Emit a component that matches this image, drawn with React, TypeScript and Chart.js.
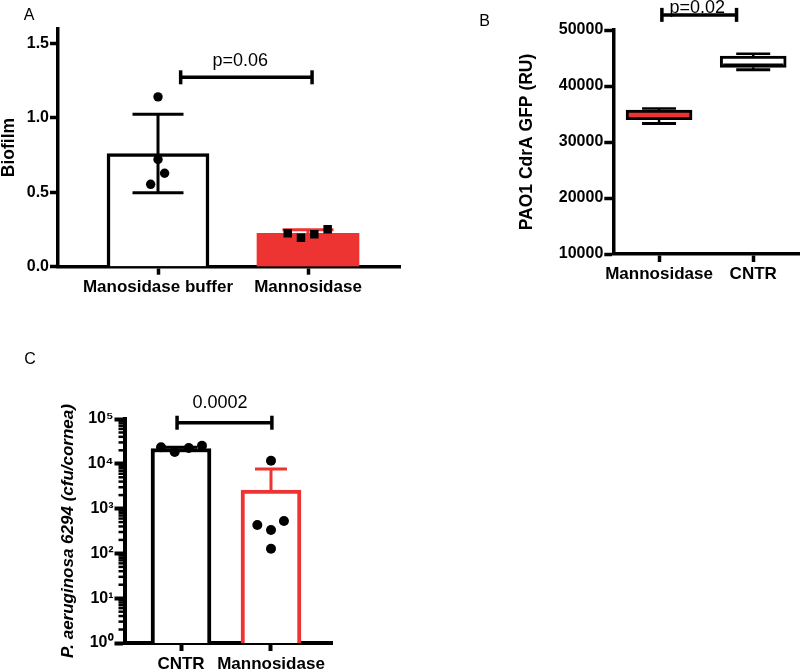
import React, { useEffect, useRef } from 'react';
import { Chart, registerables } from 'chart.js';
Chart.register(...registerables);

const FONT = '"Liberation Sans", Arial, Helvetica, sans-serif';
const RED = '#EE3333';
const BLACK = '#000000';
const WHITE = '#ffffff';

// ---------- Panel A : Biofilm ----------
const catsA = ['Manosidase buffer', 'Mannosidase'];
const barA = [0.76, 0.224];
const sdA = [0.263, 0.024];
const ptsA1 = [1.14, 0.72, 0.627, 0.553];
const ptsA2 = [0.224, 0.195, 0.217, 0.251];
const yTicksA = [0, 0.5, 1.0, 1.5];
const pTextA = 'p=0.06';
const bracketYA = 1.271;

// ---------- Panel B : PAO1 CdrA GFP ----------
const catsB = ['Mannosidase', 'CNTR'];
const minB = [33300, 42900];
const q1B = [34000, 43340];
const medB = [34700, 43750];
const q3B = [35700, 45360];
const maxB = [36000, 45770];
const yTicksB = [10000, 20000, 30000, 40000, 50000];
const pTextB = 'p=0.02';
const bracketYB = 52700;

// ---------- Panel C : P. aeruginosa cfu ----------
const catsC = ['CNTR', 'Mannosidase'];
const barC = [22000, 2600];
const sdC = [1500, 5050];
const ptsC1 = [23350, 18340, 22540, 25350];
const ptsC2 = [11730, 430, 333, 528, 127];
const yTicksC = [1, 10, 100, 1000, 10000, 100000];
const pTextC = '0.0002';
const bracketYC = 82600;

// layout-only helpers (horizontal jitter of dots, in category units)
const jitA1 = [0, 0, 0.044, -0.049];
const jitA2 = [-0.135, -0.047, 0.042, 0.131];
const jitC1 = [-0.222, -0.07, 0.086, 0.233];
const jitC2 = [0, -0.152, 0, 0.144, 0];

const SUP = ['\u2070', '\u00B9', '\u00B2', '\u00B3', '\u2074', '\u2075', '\u2076'];

const tickFont = { family: FONT, size: 16, weight: 'bold' as const };
const labFont = { family: FONT, size: 17, weight: 'bold' as const };

function axisStyle(tickLen: number, lw: number) {
  return {
    offset: false,
    grid: { display: true, offset: false, drawOnChartArea: false, drawTicks: true, tickLength: tickLen, tickWidth: lw, tickColor: BLACK },
    border: { display: true, color: BLACK, width: lw },
  };
}

function line(ctx: CanvasRenderingContext2D, x1: number, y1: number, x2: number, y2: number) {
  ctx.beginPath();
  ctx.moveTo(x1, y1);
  ctx.lineTo(x2, y2);
  ctx.stroke();
}

type PanelOpts = {
  letter: { text: string; x: number; y: number };
  bracket: { x1: number; x2: number; y: number; text: string; gap: number; dx: number };
  errors?: { means: number[]; sds: number[]; colors: string[]; both: boolean; half: number; lw: number };
  boxes?: { min: number[]; med: number[]; max: number[]; q1: number[]; q3: number[]; medColors: string[]; halfBox: number; halfCap: number };
  minor?: number[];
};

function panelPlugin(id: string, o: PanelOpts) {
  return {
    id,
    afterDatasetDraw(chart: any, args: any) {
      if (args.meta.type !== 'bar') return;
      const ctx: CanvasRenderingContext2D = chart.ctx;
      const xs = chart.scales.x;
      const ys = chart.scales.y;
      ctx.save();
      if (o.errors) {
        const e = o.errors;
        e.means.forEach((m, i) => {
          const px = xs.getPixelForValue(i);
          const top = ys.getPixelForValue(m + e.sds[i]);
          const bot = e.both ? ys.getPixelForValue(m - e.sds[i]) : ys.getPixelForValue(m);
          ctx.strokeStyle = e.colors[i];
          ctx.lineWidth = e.lw;
          line(ctx, px, top, px, bot);
          line(ctx, px - e.half, top, px + e.half, top);
          if (e.both) line(ctx, px - e.half, bot, px + e.half, bot);
        });
      }
      if (o.boxes) {
        const b = o.boxes;
        b.med.forEach((md, i) => {
          const px = xs.getPixelForValue(i);
          const yMax = ys.getPixelForValue(b.max[i]);
          const yMin = ys.getPixelForValue(b.min[i]);
          const yQ1 = ys.getPixelForValue(b.q1[i]);
          const yQ3 = ys.getPixelForValue(b.q3[i]);
          const yMed = ys.getPixelForValue(md);
          ctx.strokeStyle = BLACK;
          ctx.lineWidth = 2.5;
          line(ctx, px, yMax, px, yQ3);
          line(ctx, px, yQ1, px, yMin);
          line(ctx, px - b.halfCap, yMax, px + b.halfCap, yMax);
          ctx.lineWidth = 3;
          line(ctx, px - b.halfCap, yMin, px + b.halfCap, yMin);
          ctx.strokeStyle = b.medColors[i];
          ctx.lineWidth = 3;
          line(ctx, px - b.halfBox + 3, yMed, px + b.halfBox - 3, yMed);
        });
      }
      ctx.restore();
    },
    afterDraw(chart: any) {
      const ctx: CanvasRenderingContext2D = chart.ctx;
      const xs = chart.scales.x;
      const ys = chart.scales.y;
      ctx.save();
      if (o.minor) {
        ctx.strokeStyle = BLACK;
        ctx.lineWidth = 2.5;
        const lx = chart.chartArea.left;
        o.minor.forEach((v) => {
          const py = ys.getPixelForValue(v);
          line(ctx, lx - 6, py, lx, py);
        });
      }
      const br = o.bracket;
      const x1 = xs.getPixelForValue(br.x1);
      const x2 = xs.getPixelForValue(br.x2);
      const y = ys.getPixelForValue(br.y);
      ctx.strokeStyle = BLACK;
      ctx.lineWidth = 3.5;
      line(ctx, x1, y, x2, y);
      line(ctx, x1, y - 7, x1, y + 7);
      line(ctx, x2, y - 7, x2, y + 7);
      ctx.fillStyle = BLACK;
      ctx.font = `18px ${FONT}`;
      ctx.textAlign = 'center';
      ctx.textBaseline = 'alphabetic';
      ctx.fillText(br.text, (x1 + x2) / 2 + br.dx, y - br.gap);
      ctx.font = `16px ${FONT}`;
      ctx.textBaseline = 'middle';
      ctx.fillText(o.letter.text, o.letter.x, o.letter.y);
      ctx.restore();
    },
  };
}

const baseOptions = {
  responsive: false,
  animation: false,
  devicePixelRatio: 1,
  events: [],
};

function configA() {
  return {
    type: 'bar',
    data: {
      datasets: [
        {
          type: 'bar',
          data: barA.map((v, i) => ({ x: i, y: v })),
          backgroundColor: [WHITE, RED],
          borderColor: [BLACK, RED],
          borderWidth: [3.5, 0],
          barThickness: 102,
          order: 2,
        },
        {
          type: 'scatter',
          data: ptsA1.map((v, i) => ({ x: 0 + jitA1[i], y: v })),
          backgroundColor: BLACK,
          borderWidth: 0,
          pointRadius: 4.7,
          pointStyle: 'circle',
          order: 0,
        },
        {
          type: 'scatter',
          data: ptsA2.map((v, i) => ({ x: 1 + jitA2[i], y: v })),
          backgroundColor: BLACK,
          borderWidth: 0,
          pointRadius: 6,
          pointStyle: 'rect',
          order: 0,
        },
      ],
    },
    options: {
      ...baseOptions,
      layout: { padding: { left: 0, top: 28.3, right: 20, bottom: 0 } },
      plugins: { legend: { display: false }, tooltip: { enabled: false } },
      scales: {
        x: {
          type: 'linear',
          min: -0.6667,
          max: 1.6133,
          afterBuildTicks: (s: any) => { s.ticks = catsA.map((_, i) => ({ value: i })); },
          afterFit: (s: any) => { s.height = 33.3; },
          ticks: { callback: (_v: any, i: number) => catsA[i], font: labFont, color: BLACK, padding: 2, maxRotation: 0, autoSkip: false },
          ...axisStyle(8, 3.5),
        },
        y: {
          type: 'linear',
          min: 0,
          max: 1.6,
          afterBuildTicks: (s: any) => { s.ticks = yTicksA.map((v) => ({ value: v })); },
          afterFit: (s: any) => { s.width = 58; },
          ticks: { callback: (v: any) => Number(v).toFixed(1), font: tickFont, color: BLACK, padding: 1, autoSkip: false },
          title: { display: true, text: 'Biofilm', color: BLACK, font: { family: FONT, size: 17.5, weight: 'bold', lineHeight: 1 }, padding: 0 },
          ...axisStyle(8, 3.5),
        },
      },
    },
    plugins: [
      panelPlugin('panelA', {
        letter: { text: 'A', x: 29, y: 15.5 },
        bracket: { x1: 0.151, x2: 1.027, y: bracketYA, text: pTextA, gap: 11.3, dx: -6 },
        errors: { means: barA, sds: sdA, colors: [BLACK, RED], both: true, half: 25.5, lw: 3 },
      }),
    ],
  };
}

function configB() {
  return {
    type: 'bar',
    data: {
      datasets: [
        {
          type: 'bar',
          data: q1B.map((q, i) => ({ x: i, y: [q, q3B[i]] })),
          backgroundColor: [RED, WHITE],
          borderColor: BLACK,
          borderWidth: 3,
          borderSkipped: false,
          barThickness: 66,
        },
      ],
    },
    options: {
      ...baseOptions,
      layout: { padding: { left: 98.25, top: 30, right: 0, bottom: 0 } },
      plugins: { legend: { display: false }, tooltip: { enabled: false } },
      scales: {
        x: {
          type: 'linear',
          min: -0.486,
          max: 1.497,
          afterBuildTicks: (s: any) => { s.ticks = catsB.map((_, i) => ({ value: i })); },
          afterFit: (s: any) => { s.height = 46; },
          ticks: { callback: (_v: any, i: number) => catsB[i], font: labFont, color: BLACK, padding: 2, maxRotation: 0, autoSkip: false },
          ...axisStyle(8, 3.5),
        },
        y: {
          type: 'linear',
          min: 10000,
          max: 50000,
          afterBuildTicks: (s: any) => { s.ticks = yTicksB.map((v) => ({ value: v })); },
          afterFit: (s: any) => { s.width = 95.05; },
          ticks: { callback: (v: any) => String(v), font: tickFont, color: BLACK, padding: 1, autoSkip: false },
          title: { display: true, text: 'PAO1 CdrA GFP (RU)', color: BLACK, font: { family: FONT, size: 17.5, weight: 'bold', lineHeight: 1 }, padding: 0 },
          ...axisStyle(9, 3.5),
        },
      },
    },
    plugins: [
      panelPlugin('panelB', {
        letter: { text: 'B', x: 64.5, y: 21.7 },
        bracket: { x1: 0.03, x2: 0.823, y: bracketYB, text: pTextB, gap: 1.7, dx: -2 },
        boxes: { min: minB, med: medB, max: maxB, q1: q1B, q3: q3B, medColors: [RED, BLACK], halfBox: 33, halfCap: 17 },
      }),
    ],
  };
}

function minorTicks(decades: number[]) {
  const out: number[] = [];
  for (let d = 0; d < decades.length - 1; d++) {
    for (let k = 2; k <= 9; k++) out.push(decades[d] * k);
  }
  return out;
}

function configC() {
  return {
    type: 'bar',
    data: {
      datasets: [
        {
          type: 'bar',
          data: barC.map((v, i) => ({ x: i, y: v })),
          backgroundColor: [WHITE, WHITE],
          borderColor: [BLACK, RED],
          borderWidth: 4,
          barThickness: 60,
          order: 2,
        },
        {
          type: 'scatter',
          data: ptsC1.map((v, i) => ({ x: 0 + jitC1[i], y: v })),
          backgroundColor: BLACK,
          borderWidth: 0,
          pointRadius: 5,
          order: 0,
        },
        {
          type: 'scatter',
          data: ptsC2.map((v, i) => ({ x: 1 + jitC2[i], y: v })),
          backgroundColor: BLACK,
          borderWidth: 0,
          pointRadius: 5,
          order: 0,
        },
      ],
    },
    options: {
      ...baseOptions,
      layout: { padding: { left: 59.5, top: 79, right: 68, bottom: 0 } },
      plugins: { legend: { display: false }, tooltip: { enabled: false } },
      scales: {
        x: {
          type: 'linear',
          min: -0.628,
          max: 1.678,
          afterBuildTicks: (s: any) => { s.ticks = catsC.map((_, i) => ({ value: i })); },
          afterFit: (s: any) => { s.height = 26; },
          ticks: { callback: (_v: any, i: number) => catsC[i], font: labFont, color: BLACK, padding: 3, maxRotation: 0, autoSkip: false },
          ...axisStyle(8, 4),
        },
        y: {
          type: 'logarithmic',
          min: 1,
          max: 100000,
          afterBuildTicks: (s: any) => { s.ticks = yTicksC.map((v) => ({ value: v, major: true })); },
          afterFit: (s: any) => { s.width = 65; },
          ticks: {
            callback: (v: any) => '10' + SUP[Math.round(Math.log10(Number(v)))],
            font: tickFont,
            color: BLACK,
            padding: 1,
            autoSkip: false,
          },
          title: { display: true, text: 'P. aeruginosa 6294 (cfu/cornea)', color: BLACK, font: { family: FONT, size: 17, weight: 'bold', style: 'italic', lineHeight: 1 }, padding: 0 },
          ...axisStyle(10, 4),
        },
      },
    },
    plugins: [
      panelPlugin('panelC', {
        letter: { text: 'C', x: 30, y: 20 },
        bracket: { x1: -0.044, x2: 1.01, y: bracketYC, text: pTextC, gap: 15, dx: -4.5 },
        errors: { means: barC, sds: sdC, colors: [BLACK, RED], both: false, half: 16, lw: 3 },
        minor: minorTicks(yTicksC),
      }),
    ],
  };
}

function ChartBox({ make, left, top, width, height }: { make: () => any; left: number; top: number; width: number; height: number }) {
  const ref = useRef<HTMLCanvasElement>(null);
  useEffect(() => {
    const chart = new Chart(ref.current as HTMLCanvasElement, make());
    return () => chart.destroy();
  }, []);
  return (
    <div style={{ position: 'absolute', left, top, width, height }}>
      <canvas ref={ref} width={width} height={height} style={{ width, height, display: 'block' }} />
    </div>
  );
}

export default function App() {
  return (
    <div style={{ position: 'absolute', left: 0, top: 0, width: 800, height: 669, background: '#fff', overflow: 'hidden' }}>
      <ChartBox make={configA} left={0} top={0} width={420} height={300} />
      <ChartBox make={configB} left={420} top={0} width={380} height={300} />
      <ChartBox make={configC} left={0} top={340} width={400} height={329} />
    </div>
  );
}
